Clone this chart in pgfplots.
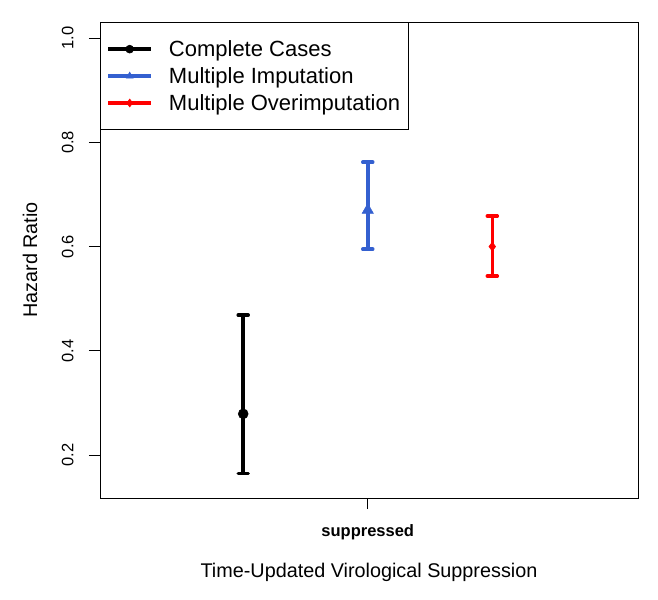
\documentclass[border=0pt]{standalone}
\usepackage{fontspec}
\setmainfont{Liberation Sans}
\usepackage{pgfplots}
\pgfplotsset{compat=1.18}
\definecolor{cc}{RGB}{0,0,0}
\definecolor{mi}{RGB}{52,96,208}
\definecolor{mo}{RGB}{255,0,0}
\begin{document}
\begin{tikzpicture}
\useasboundingbox (0,0) rectangle (658bp,600bp);
\begin{axis}[
  at={(100bp,102bp)}, anchor=south west,
  scale only axis, width=538bp, height=476bp,
  xmin=-2.15, xmax=2.17, ymin=0.1175, ymax=1.031,
  axis line style={line width=0.9bp},
  tick style={line width=0.9bp, black},
  tick align=outside, major tick length=11bp,
  xtick={0}, xticklabels={\textbf{suppressed}},
  ytick={0.2,0.4,0.6,0.8,1.0},
  xtick pos=bottom, ytick pos=left,
  /pgf/number format/.cd, fixed, fixed zerofill, precision=1, assume math mode=true,
  /pgfplots/.cd,
  tick label style={font=\fontsize{16.5bp}{19bp}\selectfont},
  yticklabel style={rotate=90, anchor=south, yshift=12bp},
  xticklabel style={anchor=north, yshift=-12bp},
  xlabel={Time-Updated Virological Suppression},
  ylabel={Hazard Ratio},
  label style={font=\fontsize{19.8bp}{23bp}\selectfont},
  xlabel style={at={(rel axis cs:0.5,0)}, anchor=center, yshift=-74bp},
  ylabel style={at={(axis description cs:-0.130,0.5)}, anchor=center},
  legend style={at={(0,1)}, anchor=north west, draw=black, line width=0.9bp,
    font=\fontsize{22bp}{26bp}\selectfont, inner xsep=6bp, inner ysep=16bp,
    row sep=5.5bp, cells={anchor=west},
    /tikz/every odd column/.append style={column sep=14bp}},
  legend image code/.code={%
    \draw[#1, line width=3.5bp] (0bp,0bp) -- (43bp,0bp);
    \draw[#1, line width=0.5bp] plot[mark size=4bp] coordinates {(21.5bp,0bp)};
  },
]
\addplot[cc, line width=3.5bp, mark=*, mark size=5bp, mark options={line width=0.5bp},
  error bars/.cd, y dir=both, y explicit,
  error bar style={line width=3.5bp, cc},
  error mark options={line width=3.5bp, mark size=5bp, line cap=round, cc, rotate=90}]
  coordinates {(-1,0.279) += (0,0.1896) -= (0,0.1145)};
\addlegendentry{Complete Cases}
\addplot[mi, line width=3.5bp, mark=triangle*, mark size=6.5bp, mark options={line width=0.5bp},
  error bars/.cd, y dir=both, y explicit,
  error bar style={line width=3.5bp, mi},
  error mark options={line width=3.5bp, mark size=5bp, line cap=round, mi, rotate=90}]
  coordinates {(0,0.670) += (0,0.092) -= (0,0.075)};
\addlegendentry{Multiple Imputation}
\addplot[mo, line width=3.5bp, mark=diamond*, mark size=4.5bp, mark options={line width=0.5bp},
  error bars/.cd, y dir=both, y explicit,
  error bar style={line width=3.5bp, mo},
  error mark options={line width=3.5bp, mark size=5bp, line cap=round, mo, rotate=90}]
  coordinates {(1,0.600) += (0,0.0585) -= (0,0.0566)};
\addlegendentry{Multiple Overimputation}
\end{axis}
\end{tikzpicture}
\end{document}
